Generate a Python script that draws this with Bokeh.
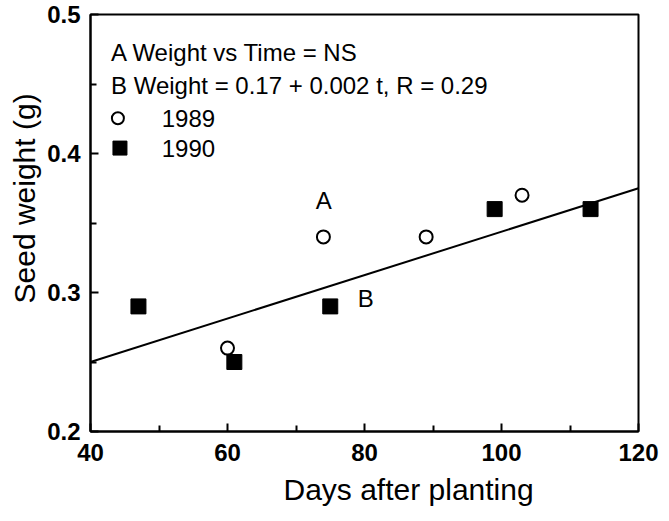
from bokeh.plotting import figure
from bokeh.models import FixedTicker, Label, Title
from bokeh.embed import file_html
from bokeh.resources import INLINE

# data
days_1989 = [60, 74, 89, 103]
weight_1989 = [0.26, 0.34, 0.34, 0.37]
days_1990 = [47, 61, 75, 99, 113]
weight_1990 = [0.29, 0.25, 0.29, 0.36, 0.36]
fit_days = [40, 120]
fit_weight = [0.25, 0.375]
x_ticks = [40, 60, 80, 100, 120]
x_minor = [50, 70, 90, 110]
y_ticks = [0.2, 0.3, 0.4, 0.5]
y_minor = [0.25, 0.35, 0.45]
x_title = "Days after planting"
y_title = "Seed weight (g)"

FONT = "Liberation Sans"

p = figure(width=669, height=521, x_range=(40, 120), y_range=(0.2, 0.5),
           output_backend="svg", toolbar_location=None,
           min_border_left=90, min_border_right=31, min_border_top=14, min_border_bottom=90)
p.background_fill_color = "white"
p.border_fill_color = "white"
p.grid.visible = False
p.outline_line_color = "black"
p.outline_line_width = 2

p.xaxis.ticker = FixedTicker(ticks=x_ticks, minor_ticks=x_minor)
p.yaxis.ticker = FixedTicker(ticks=y_ticks, minor_ticks=y_minor)
for ax in (p.xaxis, p.yaxis):
    ax.axis_line_width = 2
    ax.axis_line_color = "black"
    ax.major_tick_in = 8
    ax.major_tick_out = 0
    ax.minor_tick_in = 6
    ax.minor_tick_out = 0
    ax.major_tick_line_width = 2
    ax.minor_tick_line_width = 2
    ax.major_label_text_font = FONT
    ax.major_label_text_font_size = "24px"
    ax.major_label_text_font_style = "bold"
    ax.major_label_text_color = "black"
p.xaxis.major_label_standoff = 12
p.yaxis.major_label_standoff = 10

p.line(fit_days, fit_weight, line_color="black", line_width=2)
p.scatter(days_1989, weight_1989, marker="circle", size=13, fill_color="white",
          line_color="black", line_width=2)
p.scatter(days_1990, weight_1990, marker="square", size=15, fill_color="black",
          line_color="black")

def lab(x, y, t, size="24px"):
    p.add_layout(Label(x=x, y=y, text=t, text_font=FONT, text_font_size=size,
                       text_baseline="middle", text_align="left", text_color="black"))

lab(43.0, 0.4728, "A Weight vs Time = NS")
lab(43.0, 0.449, "B Weight = 0.17 + 0.002 t, R = 0.29")
lab(50.4, 0.4254, "1989")
lab(50.4, 0.4039, "1990")
lab(72.9, 0.366, "A")
lab(79.0, 0.296, "B")

p.scatter([44.0], [0.4254], marker="circle", size=12, fill_color="white",
          line_color="black", line_width=2)
p.scatter([44.3], [0.4039], marker="square", size=14, fill_color="black",
          line_color="black")

# axis titles as side-panel titles (placed off-centre like the original)
p.add_layout(Title(text=x_title, text_font=FONT, text_font_size="30px",
                   text_font_style="normal", text_color="black",
                   align="left", offset=193, standoff=15,
                   vertical_align="bottom"), "below")
p.add_layout(Title(text=y_title, text_font=FONT, text_font_size="30px",
                   text_font_style="normal", text_color="black",
                   align="left", offset=128, standoff=7), "left")

open("out.html", "w").write(file_html(p, INLINE))
